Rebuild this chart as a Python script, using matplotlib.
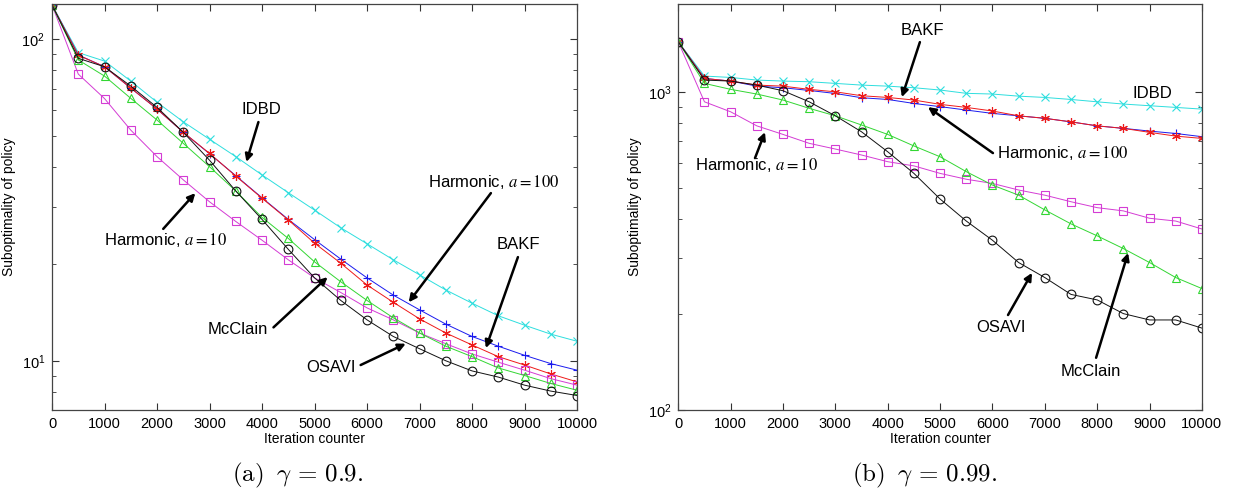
import math
import matplotlib
matplotlib.use('Agg')
import matplotlib.pyplot as plt
from matplotlib.ticker import LogLocator, FuncFormatter, NullFormatter

plt.rcParams['font.family'] = ['Liberation Sans', 'DejaVu Sans']
plt.rcParams['mathtext.fontset'] = 'custom'
plt.rcParams['mathtext.rm'] = 'Liberation Sans'
plt.rcParams['mathtext.it'] = 'Liberation Sans:italic'

# iteration counter
iters = [0, 500, 1000, 1500, 2000, 2500, 3000, 3500, 4000, 4500, 5000,
         5500, 6000, 6500, 7000, 7500, 8000, 8500, 9000, 9500, 10000]

# (a) gamma = 0.9
a_idbd = [127.6, 90.7, 85.4, 74.0, 63.6, 55.3, 48.8, 43.1, 37.8, 33.3, 29.4,
          25.9, 23.1, 20.6, 18.5, 16.6, 15.1, 13.8, 12.9, 12.1, 11.5]
a_harm100 = [127.6, 89.2, 82.0, 70.4, 60.6, 51.3, 44.0, 37.6, 32.1, 27.5, 23.8,
             20.7, 18.1, 16.0, 14.4, 13.0, 11.9, 11.1, 10.4, 9.8, 9.35]
a_bakf = [127.6, 89.0, 82.0, 70.4, 60.6, 51.3, 44.1, 37.5, 32.0, 27.4, 23.2,
          20.1, 17.2, 15.2, 13.5, 12.2, 11.2, 10.3, 9.7, 9.1, 8.6]
a_harm10 = [127.6, 77.8, 65.3, 52.1, 43.1, 36.5, 31.2, 27.1, 23.7, 20.6, 18.1,
            16.3, 14.6, 13.4, 12.2, 11.3, 10.5, 9.9, 9.35, 8.8, 8.4]
a_mcclain = [127.6, 86.1, 76.7, 65.4, 56.0, 47.4, 40.1, 33.7, 27.9, 24.0, 20.3,
             17.6, 15.4, 13.6, 12.2, 11.1, 10.3, 9.5, 9.0, 8.5, 8.1]
a_osavi = [127.6, 87.1, 82.0, 71.4, 61.3, 51.3, 42.0, 33.7, 27.5, 22.2, 18.1,
           15.4, 13.4, 11.9, 10.9, 10.0, 9.3, 8.9, 8.4, 8.05, 7.8]

# (b) gamma = 0.99
b_idbd = [1439, 1123, 1112, 1091, 1083, 1078, 1065, 1052, 1044, 1032, 1015,
          991, 986, 971, 962, 948, 932, 917, 906, 895, 884]
b_bakf = [1439, 1104, 1083, 1052, 1044, 1020, 1002, 974, 962, 944, 915,
          895, 872, 842, 827, 806, 783, 769, 747, 727, 715]
b_harm100 = [1439, 1104, 1083, 1044, 1032, 1012, 990, 960, 948, 921, 900,
             878, 857, 842, 827, 806, 783, 769, 754, 741, 724]
b_harm10 = [1439, 932, 867, 783, 736, 690, 662, 634, 604, 586, 555,
            532, 516, 492, 474, 452, 433, 423, 401, 393, 371]
b_mcclain = [1439, 1065, 1020, 986, 944, 889, 842, 788, 736, 677, 626,
             562, 510, 474, 426, 385, 353, 322, 291, 261, 241]
b_osavi = [1439, 1091, 1083, 1052, 1010, 932, 842, 750, 649, 555, 461,
           393, 342, 291, 261, 231, 222, 201, 192, 192, 181]

fig = plt.figure(figsize=(12.33, 4.97), dpi=100)
axa = fig.add_axes([0.0422, 0.175, 0.4258, 0.817])
axb = fig.add_axes([0.5501, 0.175, 0.4247, 0.817])

asterisk = (6, 2, 0)  # matlab style '*'
styles = [('#2edede', 'x'), ('#1a1aee', '+'), ('#ee1a1a', asterisk),
          ('#d43cd4', 's'), ('#33d633', '^'), ('#111111', 'o')]


def draw(ax, series):
    for (col, mk), ys in zip(styles, series):
        ax.plot(iters, ys, color=col, marker=mk, lw=0.7, ms=6.3, mew=0.8,
                mfc='none', mec=col)
    ax.set_yscale('log')
    ax.set_xlim(0, 10000)
    ax.set_xticks([0, 1000, 2000, 3000, 4000, 5000, 6000, 7000, 8000, 9000, 10000])
    ax.yaxis.set_major_locator(LogLocator(base=10, numticks=10))
    ax.yaxis.set_minor_locator(LogLocator(base=10, subs=[2, 3, 4, 5, 6, 7, 8, 9], numticks=10))
    ax.yaxis.set_major_formatter(FuncFormatter(lambda v, p: r'$\mathregular{10^{%d}}$' % round(math.log10(v))))
    ax.yaxis.set_minor_formatter(NullFormatter())
    ax.tick_params(which='both', direction='in', top=True, right=True,
                   labelsize=10.5, colors='#333333', labelcolor='black', pad=5)
    ax.tick_params(which='major', length=5)
    ax.tick_params(which='minor', length=3)
    for s in ax.spines.values():
        s.set_color('#444444')
        s.set_linewidth(0.9)
    ax.set_xlabel('Iteration counter', fontsize=10, labelpad=1)
    ax.set_ylabel('Suboptimality of policy', fontsize=10, labelpad=4)


draw(axa, [a_idbd, a_harm100, a_bakf, a_harm10, a_mcclain, a_osavi])
axa.set_ylim(7.03, 128.5)
draw(axb, [b_idbd, b_harm100, b_bakf, b_harm10, b_mcclain, b_osavi])
axb.set_ylim(100, 1893)

arrow = dict(arrowstyle='-|>', color='k', lw=1.8, mutation_scale=11, shrinkA=0, shrinkB=0)
fs = 12


def label(ax, txt, pos, ha, tail, head):
    ax.text(pos[0], pos[1], txt, ha=ha, va='center', fontsize=fs, math_fontfamily='stix')
    ax.annotate('', xy=head, xytext=tail, arrowprops=arrow)


label(axa, 'IDBD', (3989, 60.2), 'center', (3931, 55.2), (3702, 41.5))
label(axa, r'Harmonic, $a = 10$', (992, 23.7), 'left', (2118, 25.7), (2729, 33.2))
label(axa, r'Harmonic, $a = 100$', (7156, 35.9), 'left', (8359, 33.2), (6794, 15.2))
label(axa, 'BAKF', (8874, 22.9), 'center', (8874, 21.0), (8263, 10.95))
label(axa, 'McClain', (4122, 12.5), 'right', (4218, 12.7), (5248, 18.2))
label(axa, 'OSAVI', (5782, 9.56), 'right', (5878, 9.7), (6737, 11.3))

label(axb, 'BAKF', (4659, 1567), 'center', (4614, 1436), (4270, 964))
axb.text(9046, 993, 'IDBD', ha='center', va='center', fontsize=fs)
label(axb, r'Harmonic, $a = 100$', (6085, 643), 'left', (6009, 643), (4768, 897))
label(axb, r'Harmonic, $a = 10$', (1503, 589), 'center', (1465, 620), (1656, 748))
label(axb, 'OSAVI', (6163, 182), 'center', (6297, 199), (6755, 270))
label(axb, 'McClain', (7884, 132), 'center', (7979, 146), (8590, 312))

fig.text(0.2417, 0.0443, r'$\mathrm{(a)}\;\;\gamma\,=\,0.9.$', ha='center', va='center',
         fontsize=18, math_fontfamily='cm')
fig.text(0.750, 0.0443, r'$\mathrm{(b)}\;\;\gamma\,=\,0.99.$', ha='center', va='center',
         fontsize=18, math_fontfamily='cm')

fig.savefig('out.png', dpi=100)
